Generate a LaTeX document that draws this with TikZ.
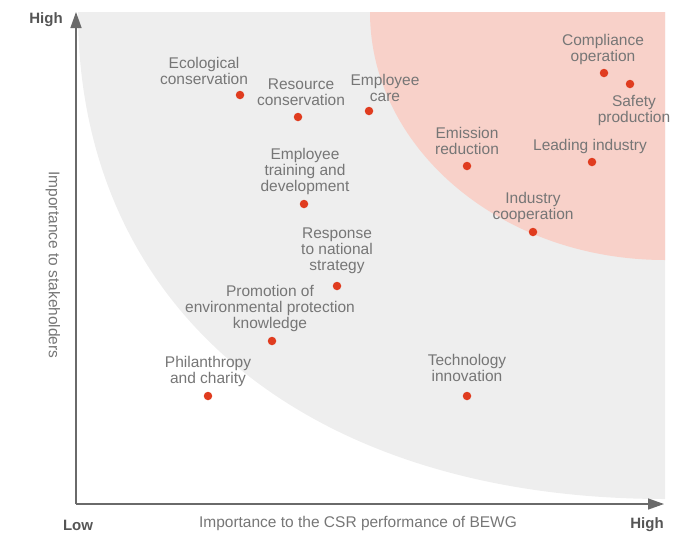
\documentclass[tikz,border=0pt]{standalone}
\usepackage{fontspec}
\setmainfont{Liberation Sans}
\usetikzlibrary{arrows.meta}
\definecolor{bggray}{HTML}{EEEEEE}
\definecolor{zonepink}{HTML}{F8D1C9}
\definecolor{dotred}{HTML}{E03C1F}
\definecolor{txtgray}{HTML}{767676}
\definecolor{axisgray}{HTML}{6A6A6A}
\definecolor{hlgray}{HTML}{555555}
\begin{document}
\begin{tikzpicture}[x=1pt,y=-1pt,
  dot/.style={circle,fill=dotred,inner sep=0pt,minimum size=8.5pt},
  lbl/.style={align=center,text=txtgray,inner sep=0pt,font=\fontsize{15.5}{16}\selectfont},
  axt/.style={text=txtgray,inner sep=0pt,font=\fontsize{15.5}{16}\selectfont},
  hlbl/.style={text=hlgray,inner sep=0pt,font=\fontsize{15}{16}\selectfont\bfseries},
  axisline/.style={draw=axisgray,line width=1.4pt,-{Triangle[length=16pt,width=11pt]}}]
\useasboundingbox (0,0) rectangle (675,536);
% zones
\fill[bggray] (78,12) .. controls (78,309) and (307,499) .. (665,499) -- (665,12) -- cycle;
\fill[zonepink] (370,12) .. controls (370,149) and (502,260) .. (665,260) -- (665,12) -- cycle;
% axes
\coordinate (O) at (76,504);
\coordinate (ytop) at (76,12);
\coordinate (xend) at (664,504);
\draw[axisline] (O) -- (ytop);
\draw[axisline] (O) -- (xend);
\node[hlbl] (yhigh) at (46,20) {High};
\node[hlbl] (xlow) at (78,525) {Low};
\node[hlbl] (xhigh) at (647,525) {High};
\node[axt] (xtitle) at (358,523) {Importance to the CSR performance of BEWG};
\node[axt,rotate=-90] (ytitle) at (53,265) {Importance to stakeholders};
% items
\node[dot] (d1) at (240,95) {};
\node[lbl] (l1) at (204,71) {Ecological\\conservation};
\node[dot] (d2) at (298,117) {};
\node[lbl] (l2) at (301,92) {Resource\\conservation};
\node[dot] (d3) at (369,111) {};
\node[lbl] (l3) at (385,88) {Employee\\care};
\node[dot] (d4) at (304,204) {};
\node[lbl] (l4) at (305,171) {Employee\\training and\\development};
\node[dot] (d5) at (337,286) {};
\node[lbl] (l5) at (337,251) {Response\\to national\\strategy};
\node[dot] (d6) at (272,341) {};
\node[lbl] (l6) at (270,308) {Promotion of\\environmental protection\\knowledge};
\node[dot] (d7) at (208,396) {};
\node[lbl] (l7) at (208,371) {Philanthropy\\and charity};
\node[dot] (d8) at (467,396) {};
\node[lbl] (l8) at (467,368) {Technology\\innovation};
\node[dot] (d9) at (604,73) {};
\node[lbl] (l9) at (603,49) {Compliance\\operation};
\node[dot] (d10) at (630,84) {};
\node[lbl] (l10) at (634,110) {Safety\\production};
\node[dot] (d11) at (467,166) {};
\node[lbl] (l11) at (467,141) {Emission\\reduction};
\node[dot] (d12) at (592,162) {};
\node[lbl] (l12) at (590,146) {Leading industry};
\node[dot] (d13) at (533,232) {};
\node[lbl] (l13) at (533,207) {Industry\\cooperation};
\end{tikzpicture}
\end{document}
